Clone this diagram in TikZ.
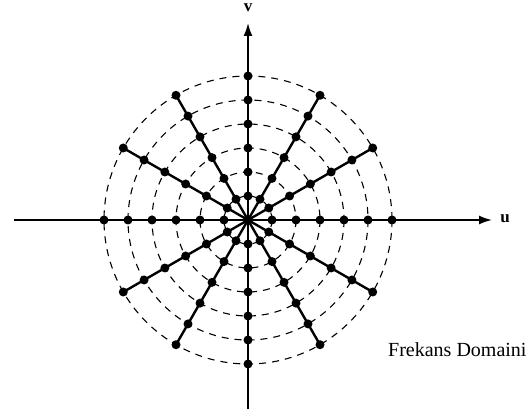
\documentclass[tikz,border=0pt]{standalone}
\usepackage{fontspec}
\setmainfont{Liberation Serif}
\usetikzlibrary{arrows.meta,calc}
\begin{document}
\begin{tikzpicture}[x=1pt,y=-1pt,
  axisline/.style={line width=1.7pt,-{Latex[length=13pt,width=9pt]}},
  ringline/.style={line width=1.1pt,dash pattern=on 7pt off 6pt},
  spoke/.style={line width=2.4pt},
  dotmark/.style={circle,fill=black,inner sep=0pt,minimum size=9pt},
  axlabel/.style={font=\fontsize{17}{19}\selectfont\bfseries,inner sep=0pt}]
\useasboundingbox (0,0) rectangle (528,414);
\coordinate (O) at (248,220);
\coordinate (xl) at (14,220);
\coordinate (xr) at (492,220);
\coordinate (yb) at (248,409);
\coordinate (yt) at (248,23);
% dashed circles
\foreach \k in {1,...,6}
  \draw[ringline] (O) circle[radius=24*\k];
% spokes
\foreach \a in {0,30,...,330}
  \draw[spoke] (O) -- ++(\a:144);
% axes
\draw[axisline] (xl) -- (xr);
\draw[axisline] (yb) -- (yt);
% dots
\node[dotmark] (c0) at (O) {};
\foreach \a in {0,30,...,330}
  \foreach \k in {1,...,6}
    \node[dotmark] (d\a-\k) at ($(O)+(\a:24*\k)$) {};
% labels
\node[axlabel] (u) at (505,219) {u};
\node[axlabel] (v) at (248,8) {v};
\node[font=\fontsize{20}{22}\selectfont,anchor=base west,inner sep=0pt] (fd) at (388,357) {Frekans Domaini};
\end{tikzpicture}
\end{document}
